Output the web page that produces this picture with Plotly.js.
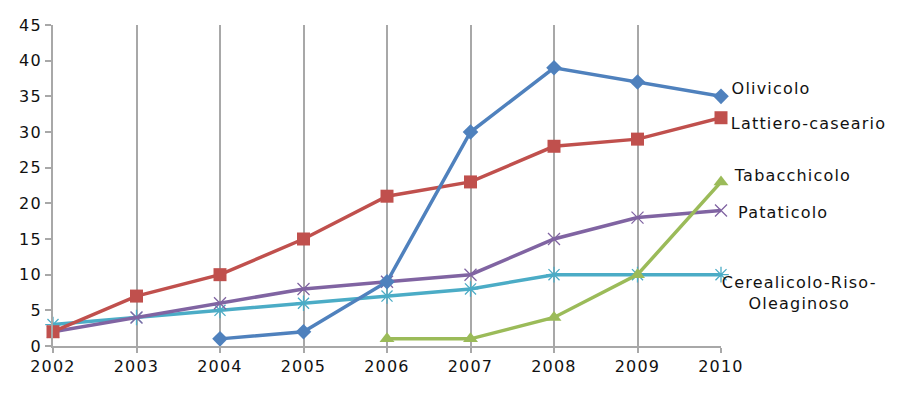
<!DOCTYPE html>
<html><head><meta charset="utf-8">
<script src="https://cdn.plot.ly/plotly-3.0.1.min.js"></script>
<style>html,body{margin:0;padding:0;background:#fff}#c{width:907px;height:395px}
#c svg text{letter-spacing:1.2px}</style>
</head><body><div id="c"></div>
<script>
const years = [2002,2003,2004,2005,2006,2007,2008,2009,2010];
const olivicolo = [null,null,1,2,9,30,39,37,35];
const lattiero = [2,7,10,15,21,23,28,29,32];
const tabacchicolo = [null,null,null,null,1,1,4,10,23];
const pataticolo = [2,4,6,8,9,10,15,18,19];
const cerealicolo = [3,4,5,6,7,8,10,10,10];
const seriesNames = ["Olivicolo","Lattiero-caseario","Tabacchicolo","Pataticolo","Cerealicolo-Riso-<br>Oleaginoso"];
const yTicks = [0,5,10,15,20,25,30,35,40,45];

function tr(y, color, sym, size, lw){
  return {x: years, y: y, type:'scatter', mode:'lines+markers', connectgaps:false,
    line:{color:color, width:3.5},
    marker:{symbol:sym, size:size, color:color, line:{color:color, width:lw}},
    showlegend:false, cliponaxis:false};
}
const data = [
  tr(cerealicolo,'#4BACC6','asterisk-open',13,1.3),
  tr(pataticolo,'#8064A2','x-thin-open',12,1.3),
  tr(tabacchicolo,'#9BBB59','triangle-up',13,0),
  tr(lattiero,'#C0504D','square',13,0),
  tr(olivicolo,'#4F81BD','diamond',12,0)
];
const font = {family:'DejaVu Sans, Arial, sans-serif', size:16, color:'#111'};
const LS = 1.2;
function spacingFix(t){ const n = Math.max(...t.split('<br>').map(s=>s.length)); return n*LS/2; }
const lastX = years[years.length-1];
const annotations = [
  {text:seriesNames[0], x:lastX, y:olivicolo[8], xshift:9, yshift:8},
  {text:seriesNames[1], x:lastX, y:lattiero[8], xshift:8, yshift:-6},
  {text:seriesNames[2], x:lastX, y:tabacchicolo[8], xshift:11, yshift:6},
  {text:seriesNames[3], x:lastX, y:pataticolo[8], xshift:15, yshift:-2},
  {text:seriesNames[4], x:lastX, y:cerealicolo[8], xshift:-1, yshift:-18, align:'center'}
].map(a=>{ a.xshift += spacingFix(a.text); return Object.assign({xref:'x', yref:'y', xanchor:'left', yanchor:'middle', showarrow:false, font:font}, a); });

const layout = {
  width:907, height:395,
  margin:{l:53, r:186, t:25, b:49},
  paper_bgcolor:'#fff', plot_bgcolor:'#fff',
  font:font,
  xaxis:{range:[2002,2010], tickvals:years, ticktext:years.map(String), showgrid:true, gridcolor:'#A8A8A8', gridwidth:2,
    zeroline:false, showline:true, linecolor:'#A8A8A8', linewidth:2, ticks:'outside', ticklen:5, tickwidth:2, tickcolor:'#A8A8A8', tickfont:font, fixedrange:true},
  yaxis:{range:[0,45], tickvals:yTicks, showgrid:false, zeroline:false, showline:true, linecolor:'#A8A8A8', linewidth:2,
    ticks:'outside', ticklen:6, tickwidth:2, tickcolor:'#A8A8A8', tickfont:font, fixedrange:true},
  annotations: annotations
};
Plotly.newPlot('c', data, layout, {displayModeBar:false, staticPlot:true});
</script></body></html>
